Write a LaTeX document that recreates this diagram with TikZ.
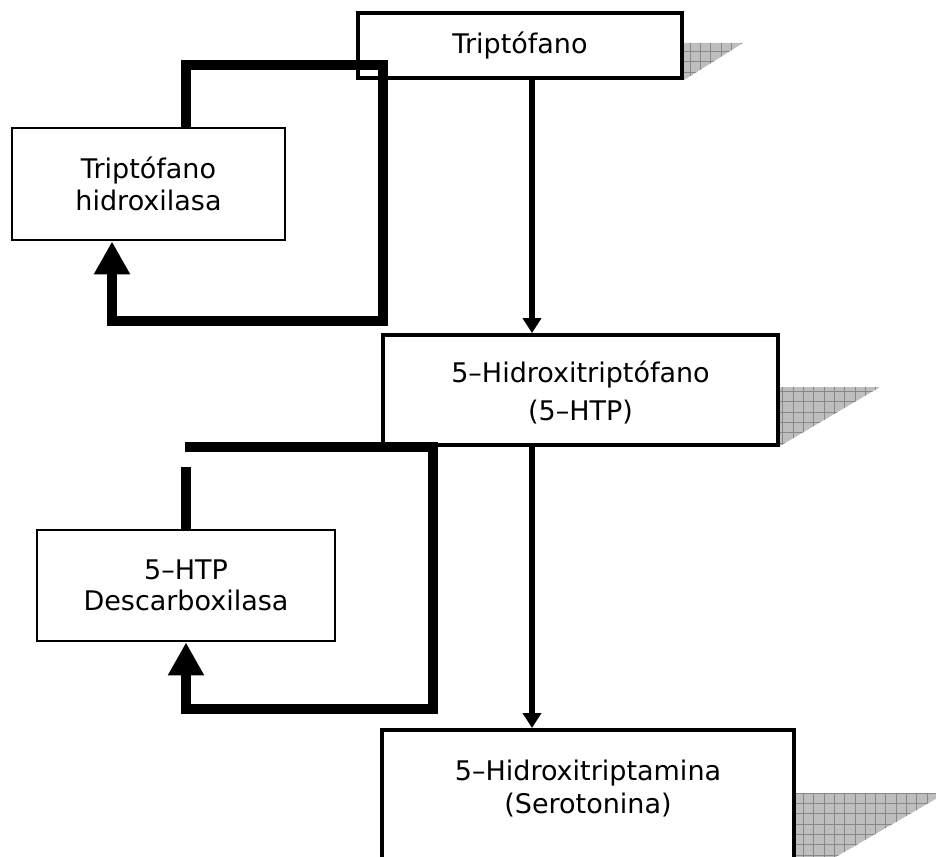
\documentclass[tikz,border=0pt]{standalone}
\usepackage{fontspec}
\setmainfont{DejaVu Sans}
\usetikzlibrary{arrows.meta}
\definecolor{shadefill}{HTML}{BEBEBE}
\definecolor{shadegrid}{HTML}{888888}
\begin{document}
\begin{tikzpicture}[x=1pt,y=-1pt,
  every node/.style={font=\fontsize{27}{32}\selectfont},
  stagebox/.style={draw, line width=3.8pt, fill=white, align=center, inner sep=0pt},
  enzbox/.style={draw, line width=2.8pt, fill=white, align=center, inner sep=0pt},
  flow/.style={line width=5.5pt, -{Triangle[width=18pt,length=15pt]}},
  loopline/.style={line width=10.5pt, line join=miter},
  loopend/.style={-{Triangle[width=34pt,length=33pt]}},
  hatch/.style={fill=shadefill, path picture={\draw[shadegrid, line width=0.8pt, step=10.3pt]
      (path picture bounding box.south west) grid (path picture bounding box.north east);}}
]
\clip (0,0) rectangle (936,856);

% hatched drop shadows
\path[hatch] (684,43) -- (743,43) -- (684,80) -- cycle;
\path[hatch] (780,387) -- (880,387) -- (780,446) -- cycle;
\path[hatch] (796,793) -- (946,793) -- (796,880) -- cycle;

% metabolites
\node[stagebox, minimum width=324pt, minimum height=65pt] (b1) at (520,45.5) {Triptófano};
\node[stagebox, minimum width=395pt, minimum height=110pt,
      font=\fontsize{27}{38}\selectfont] (b2) at (580.5,390) {\raisebox{0pt}[26pt][0pt]{}5–Hidroxitriptófano\\(5–HTP)};
\node[stagebox, minimum width=412pt, minimum height=160pt, anchor=north] (b3) at (588,728) {};
\node[align=center, font=\fontsize{27}{33}\selectfont] (b3t) at (588,788.5) {5–Hidroxitriptamina\\(Serotonina)};

% enzymes
\node[enzbox, minimum width=273pt, minimum height=112pt] (e1) at (148.5,184) {Triptófano\\hidroxilasa};
\node[enzbox, minimum width=298pt, minimum height=111pt,
      font=\fontsize{27}{31}\selectfont] (e2) at (186,585.5) {5–HTP\\Descarboxilasa};

% pathway arrows
\coordinate (f1) at ([xshift=12pt]b1.south);
\draw[flow] (f1) -- (f1 |- b2.north);
\coordinate (f2) at ([xshift=-48.5pt]b2.south);
\draw[flow] (f2) -- (f2 |- b3.north);

% enzyme loops
\coordinate (k1a) at (383,65);
\coordinate (k1b) at (383,321);
\draw[loopline, loopend] ([xshift=37.5pt]e1.north) |- (k1a) -- (k1b) -| ([xshift=-36.5pt]e1.south);

\coordinate (k2s) at (186,467);
\draw[loopline] (e2.north) -- (e2.north |- k2s);
\coordinate (k2a) at (185,447);
\coordinate (k2b) at (433,447);
\coordinate (k2c) at (433,709);
\draw[loopline, loopend] (k2a) -- (k2b) -- (k2c) -| (e2.south);
\end{tikzpicture}
\end{document}
